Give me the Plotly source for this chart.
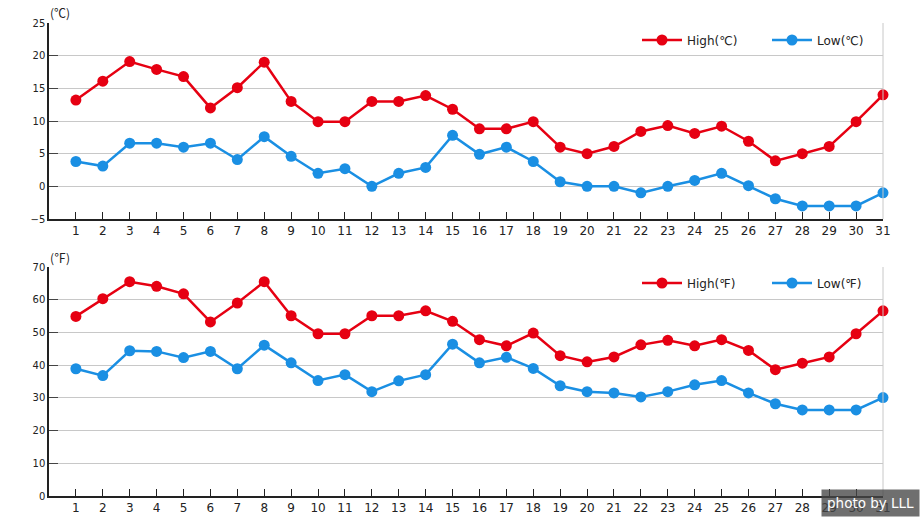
import plotly.graph_objects as go

days = list(range(1, 32))
high_c = [13.2, 16.1, 19.1, 17.9, 16.8, 12.0, 15.1, 19.0, 13.0, 9.9, 9.9, 13.0, 13.0, 13.9, 11.8, 8.8,
          8.8, 9.9, 6.0, 5.0, 6.1, 8.4, 9.3, 8.1, 9.2, 6.9, 3.9, 5.0, 6.1, 9.9, 14.0]
low_c = [3.8, 3.1, 6.6, 6.6, 6.0, 6.6, 4.1, 7.6, 4.6, 2.0, 2.7, 0.0, 2.0, 2.9, 7.8, 4.9,
         6.0, 3.8, 0.7, 0.0, 0.0, -1.0, 0.0, 0.9, 2.0, 0.1, -1.9, -3.0, -3.0, -3.0, -1.0]
high_f = [54.9, 60.3, 65.5, 64.1, 61.8, 53.2, 59.0, 65.5, 55.1, 49.6, 49.6, 55.1, 55.1, 56.6, 53.4, 47.8,
          45.9, 49.8, 42.9, 41.0, 42.5, 46.2, 47.6, 45.9, 47.8, 44.5, 38.6, 40.6, 42.5, 49.6, 56.6]
low_f = [38.9, 36.8, 44.4, 44.2, 42.3, 44.2, 38.9, 46.1, 40.7, 35.3, 37.1, 31.9, 35.2, 37.1, 46.4, 40.7,
         42.4, 39.0, 33.7, 31.9, 31.5, 30.3, 31.9, 34.0, 35.3, 31.5, 28.2, 26.3, 26.3, 26.3, 30.1]
c_ticks = [-5, 0, 5, 10, 15, 20, 25]
f_ticks = [0, 10, 20, 30, 40, 50, 60, 70]

RED = "#E60012"
BLUE = "#1A8FE3"
FONT = "DejaVu Sans"
TXT = "#222222"

fig = go.Figure()

def add(y, name, color, xa, ya, leg):
    fig.add_trace(go.Scatter(
        x=days, y=y, name=name, mode="lines+markers",
        line=dict(color=color, width=2.5),
        marker=dict(color=color, size=11),
        xaxis=xa, yaxis=ya, legend=leg, cliponaxis=False))

add(high_c, "High(℃)", RED, "x", "y", "legend")
add(low_c, "Low(℃)", BLUE, "x", "y", "legend")
add(high_f, "High(℉)", RED, "x2", "y2", "legend2")
add(low_f, "Low(℉)", BLUE, "x2", "y2", "legend2")

W, H = 920, 530
xdom = [49 / W, 883 / W]
top_dom = [1 - 219 / H, 1 - 23 / H]
bot_dom = [1 - 496 / H, 1 - 267 / H]

xcommon = dict(range=[0, 31], tickvals=days, ticktext=[str(d) for d in days],
               ticks="inside", ticklen=7, tickcolor="#222", tickwidth=1,
               showline=True, linecolor="#222", linewidth=1.5, showgrid=False,
               zeroline=False, tickfont=dict(family=FONT, size=12, color=TXT),
               domain=xdom, fixedrange=True, automargin=False)
ycommon = dict(ticks="inside", ticklen=9, tickcolor="#444", tickwidth=1,
               showline=True, linecolor="#222", linewidth=1.5, showgrid=True,
               gridcolor="#c8c8c8", gridwidth=1, zeroline=False,
               tickfont=dict(family=FONT, size=10, color=TXT), fixedrange=True,
               automargin=False)

leg_common = dict(orientation="h", x=0.975, xanchor="right", yanchor="middle",
                  bgcolor="rgba(0,0,0,0)", font=dict(family=FONT, size=12, color=TXT),
                  itemwidth=40, tracegroupgap=0, entrywidth=75)

fig.update_layout(
    width=W, height=H,
    margin=dict(l=0, r=0, t=0, b=0, autoexpand=False),
    paper_bgcolor="white", plot_bgcolor="white",
    showlegend=True,
    xaxis=dict(**xcommon, anchor="y"),
    yaxis=dict(**ycommon, range=[-5, 25], tickvals=c_ticks, domain=top_dom, anchor="x"),
    xaxis2=dict(**xcommon, anchor="y2"),
    yaxis2=dict(**ycommon, range=[0, 70], tickvals=f_ticks, domain=bot_dom, anchor="x2"),
    legend=dict(**leg_common, y=1 - 40 / H),
    legend2=dict(**leg_common, y=1 - 283 / H),
    annotations=[
        dict(text="(℃)", x=48 / W, y=1 - 13 / H, xref="paper", yref="paper",
             xanchor="left", yanchor="middle", showarrow=False,
             font=dict(family="Noto Sans CJK JP", size=12, color=TXT)),
        dict(text="(℉)", x=48 / W, y=1 - 257 / H, xref="paper", yref="paper",
             xanchor="left", yanchor="middle", showarrow=False,
             font=dict(family="Noto Sans CJK JP", size=12, color=TXT)),
        dict(text="photo by LLL", x=1.0, y=1 - 503 / H, xref="paper", yref="paper",
             xanchor="right", yanchor="middle", showarrow=False,
             bgcolor="rgba(70,70,70,0.78)", borderpad=5,
             font=dict(family=FONT, size=13.5, color="white")),
    ],
    shapes=[
        dict(type="line", xref="x domain", yref="y domain", x0=1, x1=1, y0=0, y1=1,
             line=dict(color="#c8c8c8", width=1)),
        dict(type="line", xref="x2 domain", yref="y2 domain", x0=1, x1=1, y0=0, y1=1,
             line=dict(color="#c8c8c8", width=1)),
    ],
)

fig.write_html("out.html", config={"displayModeBar": False},
               post_script="document.body.style.margin='0';document.body.style.overflow='hidden';")
